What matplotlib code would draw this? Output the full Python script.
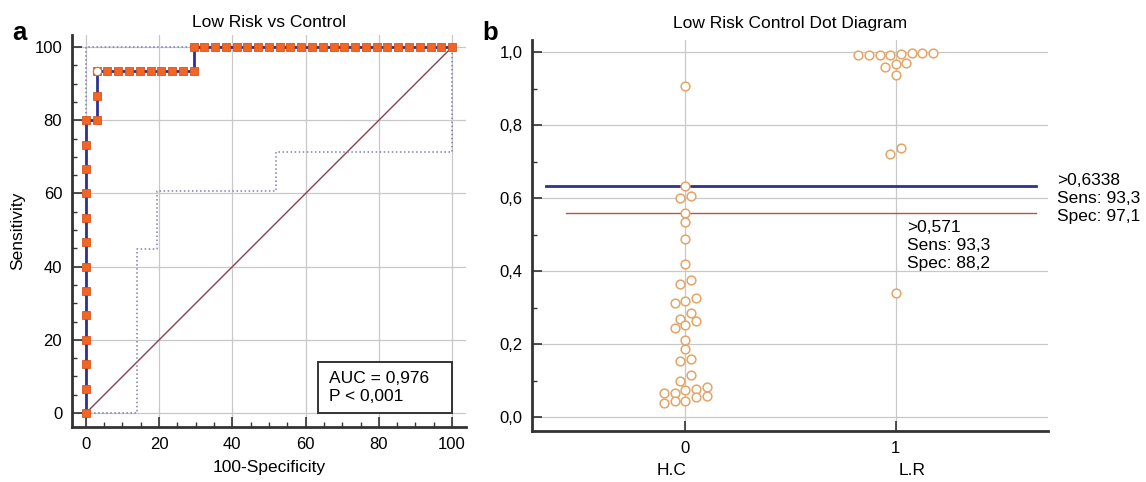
import numpy as np
import matplotlib
matplotlib.use('Agg')
from matplotlib import pyplot as plt
from matplotlib.patches import Rectangle
from matplotlib.ticker import MultipleLocator, FuncFormatter

plt.rcParams['font.family'] = ['Liberation Sans', 'DejaVu Sans']

# ---- panel a: ROC curve, Low Risk (n=15) vs Control (n=34) ----
roc_fpr = [0, 0, 0, 0, 0, 0, 0, 0, 0, 0, 0, 0, 0,
           2.94, 2.94, 2.94,
           5.88, 8.82, 11.76, 14.71, 17.65, 20.59, 23.53, 26.47, 29.41,
           29.41, 32.35, 35.29, 38.24, 41.18, 44.12, 47.06, 50.0, 52.94,
           55.88, 58.82, 61.76, 64.71, 67.65, 70.59, 73.53, 76.47, 79.41,
           82.35, 85.29, 88.24, 91.18, 94.12, 97.06, 100.0]
roc_sens = [0, 6.67, 13.33, 20, 26.67, 33.33, 40, 46.67, 53.33, 60, 66.67, 73.33, 80,
            80, 86.67, 93.33,
            93.33, 93.33, 93.33, 93.33, 93.33, 93.33, 93.33, 93.33, 93.33,
            100, 100, 100, 100, 100, 100, 100, 100, 100,
            100, 100, 100, 100, 100, 100, 100, 100, 100,
            100, 100, 100, 100, 100, 100, 100]
best_point = (2.94, 93.33)

ci_upper_x = [0, 0, 100]
ci_upper_y = [0, 100, 100]
ci_lower_x = [0, 13.9, 13.9, 19.4, 19.4, 51.9, 51.9, 100, 100]
ci_lower_y = [0, 0, 44.8, 44.8, 60.8, 60.8, 71.2, 71.2, 100]

auc_text = "AUC = 0,976\nP < 0,001"

# ---- panel b: dot diagram ----
hc_values = [0.907, 0.634, 0.601, 0.605, 0.558, 0.535, 0.487, 0.419, 0.366, 0.375,
             0.313, 0.319, 0.327, 0.286, 0.264, 0.270, 0.245, 0.252, 0.211, 0.188,
             0.154, 0.159, 0.115, 0.100, 0.083, 0.074, 0.076, 0.065, 0.065, 0.056,
             0.058, 0.040, 0.045, 0.045]
lr_values = [0.992, 0.992, 0.992, 0.993, 0.995, 0.997, 0.998, 0.999,
             0.960, 0.967, 0.971, 0.937, 0.722, 0.738, 0.341]
group_labels = ["H.C", "L.R"]
cut_blue = 0.634
cut_red = 0.558
blue_text = ">0,6338\nSens: 93,3\nSpec: 97,1"
red_text = ">0,571\nSens: 93,3\nSpec: 88,2"

ORANGE = '#f26522'
NAVY = '#2e3192'
GRID = '#c8c8c8'
SPINE = '#333333'
DOT = '#e3a566'


def comma(v, pos):
    return ('%.1f' % v).replace('.', ',')


def swarm_offsets(values, h=0.02, step=0.0254):
    values = np.asarray(values)
    order = np.argsort(values, kind='stable')
    offs = np.zeros(len(values))
    i = 0
    while i < len(order):
        j = i
        while j < len(order) and values[order[j]] - values[order[i]] <= h:
            j += 1
        n = j - i
        for k in range(n):
            offs[order[i + k]] = (2 * k - (n - 1)) * step
        i = j
    return offs


def style_axes(ax):
    for s in ['top', 'right']:
        ax.spines[s].set_visible(False)
    for s in ['left', 'bottom']:
        ax.spines[s].set_linewidth(2.0)
        ax.spines[s].set_color(SPINE)
    ax.tick_params(which='major', direction='in', length=7, width=1.2,
                   color=SPINE, labelsize=12, pad=7)
    ax.tick_params(which='minor', direction='in', length=3.5, width=1.0, color=SPINE)
    ax.grid(True, which='major', color=GRID, lw=0.9)
    ax.set_axisbelow(True)


fig = plt.figure(figsize=(11.46, 4.82), dpi=100)

# ---------- a ----------
ax1 = fig.add_axes([0.0628, 0.1141, 0.3438, 0.8133])
style_axes(ax1)
ax1.set_xlim(-3.8, 103.8)
ax1.set_ylim(-3.8, 103.3)
ax1.xaxis.set_major_locator(MultipleLocator(20))
ax1.xaxis.set_minor_locator(MultipleLocator(5))
ax1.yaxis.set_major_locator(MultipleLocator(20))
ax1.yaxis.set_minor_locator(MultipleLocator(5))

ax1.plot([0, 100], [0, 100], color='#8e3f4c', lw=1.0, zorder=2)
ax1.plot(ci_upper_x, ci_upper_y, color='#7c7cb4', lw=1.1, ls=':', zorder=2)
ax1.plot(ci_lower_x, ci_lower_y, color='#7c7cb4', lw=1.1, ls=':', zorder=2)
ax1.plot(roc_fpr, roc_sens, color=NAVY, lw=2.0, marker='s', ms=6,
         mfc=ORANGE, mec='#d9531a', mew=0.6, zorder=3)
ax1.plot([best_point[0]], [best_point[1]], marker='o', ms=6, mfc='white',
         mec=ORANGE, mew=0.8, zorder=4)

ax1.add_patch(Rectangle((63.4, 0), 36.6, 14, facecolor='white', edgecolor=SPINE,
                        lw=1.4, zorder=5))
ax1.text(66.5, 7, auc_text, fontsize=12.5, va='center', ha='left',
         linespacing=1.25, zorder=6)

ax1.set_title("Low Risk vs Control", fontsize=12.5, pad=6)
ax1.set_xlabel("100-Specificity", fontsize=12.5)
ax1.xaxis.set_label_coords(0.5, -0.085)
ax1.set_ylabel("Sensitivity", fontsize=12.5)
ax1.yaxis.set_label_coords(-0.12, 0.5)

# ---------- b ----------
ax2 = fig.add_axes([0.4642, 0.1058, 0.4503, 0.811])
style_axes(ax2)
ax2.set_xlim(-0.73, 1.725)
ax2.set_ylim(-0.038, 1.033)
ax2.set_xticks([0, 1])
ax2.yaxis.set_major_locator(MultipleLocator(0.2))
ax2.yaxis.set_minor_locator(MultipleLocator(0.1))
ax2.yaxis.set_major_formatter(FuncFormatter(comma))
ax2.tick_params(axis='x', pad=7)

for gi, vals in enumerate([hc_values, lr_values]):
    xs = gi + swarm_offsets(vals)
    ax2.plot(xs, vals, ls='none', marker='o', ms=6.3, mfc='white', mec=DOT,
             mew=1.1, zorder=4)

ax2.plot([-0.665, 1.668], [cut_blue, cut_blue], color=NAVY, lw=2.0, zorder=3)
ax2.plot([-0.567, 1.668], [cut_red, cut_red], color='#c05050', lw=1.0, zorder=3)
ax2.text(1.768, 0.668, blue_text, fontsize=12.5, va='top', ha='left', linespacing=1.25)
ax2.text(1.054, 0.541, red_text, fontsize=12.5, va='top', ha='left', linespacing=1.25)

for gi, lab in enumerate(group_labels):
    ax2.text(gi + (-0.065 if gi == 0 else 0.077), -0.1, lab, fontsize=12.5,
             ha='center', va='center', transform=ax2.get_xaxis_transform())

ax2.set_title("Low Risk Control Dot Diagram", fontsize=12.5, pad=9)

fig.text(0.0105, 0.917, "a", fontsize=18.5, fontweight='bold')
fig.text(0.4206, 0.917, "b", fontsize=18.5, fontweight='bold')

fig.savefig('out.png', dpi=100)
